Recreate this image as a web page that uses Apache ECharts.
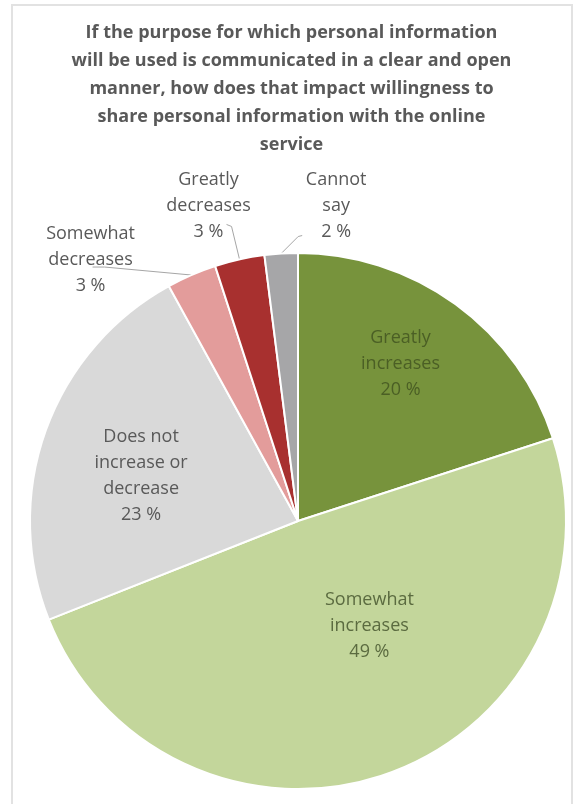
<!DOCTYPE html>
<html>
<head>
<meta charset="utf-8">
<title>Purpose communicated clearly - willingness to share</title>
<script src="https://cdn.jsdelivr.net/npm/echarts@6/dist/echarts.min.js"></script>
<style>
  html, body { margin: 0; padding: 0; background: #fff; }
  #main { width: 583px; height: 804px; }
</style>
</head>
<body>
<div id="main"></div>
<script>
// data
var categories = ['Greatly increases', 'Somewhat increases', 'Does not increase or decrease',
  'Somewhat decreases', 'Greatly decreases', 'Cannot say'];
var labelLines = [['Greatly', 'increases'], ['Somewhat', 'increases'], ['Does not', 'increase or', 'decrease'],
  ['Somewhat', 'decreases'], ['Greatly', 'decreases'], ['Cannot', 'say']];
var shares = [20, 49, 23, 3, 3, 2];

var colors = ['#77933c', '#c3d69b', '#d9d9d9', '#e39c9b', '#a8302f', '#a6a6a8'];
var textColors = ['#4b5f25', '#5b6b40', '#595959', '#595959', '#595959', '#595959'];
var outside = [false, false, false, true, true, true];

// label shifts: inside -> from default spot, outside -> from anchor on the arc
var labelShift = [[22, -46], [25, -24], [-28, 1], [-101, -15], [-31, -54], [55, -48]];
// leader line: [attach, bend] as [_, dy, dx] relative to label centre
var leader = [null, null, null, [[1, 7, 2], [1, 7, 14]], [[0, 19, 18], [0, 21, 23]], [[0, 30, -34], [0, 31, -38]]];

var chart = echarts.init(document.getElementById('main'));

var data = [];
for (var i = 0; i < categories.length; i++) {
  data.push({
    name: categories[i],
    value: shares[i],
    itemStyle: { color: colors[i] },
    label: {
      position: outside[i] ? 'outside' : 'inside',
      color: textColors[i]
    },
    labelLine: { show: outside[i] }
  });
}

var option = {
  backgroundColor: '#fff',
  title: {
    text: 'If the purpose for which personal information\nwill be used is communicated in a clear and open\nmanner, how does that impact willingness to\nshare personal information with the online\nservice',
    left: 'center',
    top: 14,
    textStyle: {
      fontFamily: 'Open Sans',
      fontWeight: 'bold',
      fontSize: 18,
      lineHeight: 28,
      color: '#595959'
    }
  },
  graphic: [{
    type: 'rect',
    shape: { x: 12, y: 5, width: 560, height: 820 },
    style: { fill: 'none', stroke: '#e2e2e2', lineWidth: 2 },
    silent: true
  }],
  series: [{
    type: 'pie',
    center: [298, 521],
    radius: 268,
    startAngle: 90,
    clockwise: true,
    avoidLabelOverlap: false,
    animation: false,
    itemStyle: { borderColor: '#fff', borderWidth: 2 },
    label: {
      fontFamily: 'Open Sans',
      fontSize: 18,
      lineHeight: 26,
      formatter: function (p) {
        return labelLines[p.dataIndex].concat([p.value + ' %']).join('\n');
      }
    },
    labelLine: {
      length: 10,
      length2: 10,
      lineStyle: { color: '#a6a6a6', width: 1 }
    },
    labelLayout: function (p) {
      var i = p.dataIndex;
      var s = labelShift[i];
      var r = p.labelRect;
      if (!outside[i]) {
        return {
          x: r.x + r.width / 2 + s[0],
          y: r.y + r.height / 2 + s[1],
          align: 'center',
          verticalAlign: 'middle'
        };
      }
      var a = p.labelLinePoints[0];
      var cx = a[0] + s[0];
      var cy = a[1] + s[1];
      var pts = [a];
      var l = leader[i];
      // bend first, then attach point on the label
      pts.push([cx + l[1][2], cy + l[1][1]]);
      pts.push([cx + l[0][2], cy + l[0][1]]);
      return {
        x: cx,
        y: cy,
        align: 'center',
        verticalAlign: 'middle',
        labelLinePoints: pts
      };
    },
    data: data
  }]
};

chart.setOption(option);
</script>
</body>
</html>
